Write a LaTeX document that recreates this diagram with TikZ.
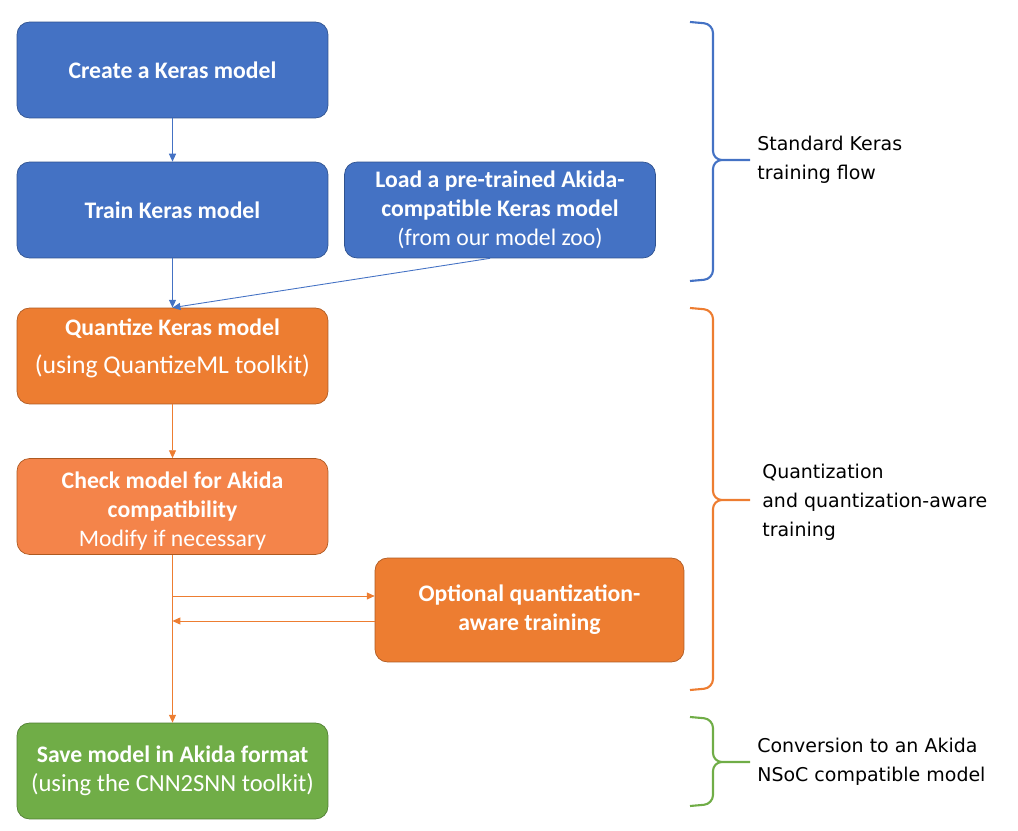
\documentclass[tikz,border=0pt]{standalone}
\usepackage{fontspec}
\setmainfont{Carlito}
\newfontfamily\notefont{DejaVu Sans}
\usetikzlibrary{arrows.meta,positioning}
\definecolor{kblue}{HTML}{4472C4}
\definecolor{kblueline}{HTML}{2F528F}
\definecolor{korange}{HTML}{ED7D31}
\definecolor{klight}{HTML}{F4844A}
\definecolor{koline}{HTML}{AE5A21}
\definecolor{kgreen}{HTML}{70AD47}
\definecolor{kgline}{HTML}{507E32}

\begin{document}
\begin{tikzpicture}[x=0.02cm,y=-0.02cm,
  box/.style={draw, line width=0.4pt, rounded corners=0.25cm, minimum width=6.22cm,
    minimum height=1.92cm, align=center, text=white, inner sep=2pt,
    font=\fontsize{13.5}{16.5}\selectfont\bfseries},
  bluebox/.style={box, fill=kblue, draw=kblueline},
  orabox/.style={box, fill=korange, draw=koline},
  greenbox/.style={box, fill=kgreen, draw=kgline},
  arr/.style={-{Triangle[length=4.5pt,width=4pt]}, line width=0.5pt},
  bracel/.style={line width=1.2pt, rounded corners=0.18cm},
  note/.style={align=left, anchor=west, inner sep=0pt,
    font=\notefont\fontsize{10.8}{16.5}\selectfont}
]
\useasboundingbox (0,0) rectangle (1018,831);

  % Draw the boxes
  \node[bluebox] (create) at (172.5,70) {Create a Keras model};
  \node[bluebox] (train) at (172.5,210) {Train Keras model};
  \node[bluebox] (load) at (500,210) {Load a pre-trained Akida-\\compatible Keras model\\
    \mdseries (from our model zoo)};
  \node[orabox] (quant) at (172.5,356) {Quantize Keras model\\[5pt]
    {\fontsize{14.6}{18}\selectfont\mdseries (using QuantizeML toolkit)\rule[-11pt]{0pt}{0pt}}};
  \node[orabox, fill=klight] (check) at (172.5,506.5) {\rule{0pt}{14.5pt}Check model for Akida\\compatibility\\
    \mdseries Modify if necessary};
  \node[orabox, minimum width=6.18cm, minimum height=2.08cm] (opt) at (529.5,610)
    {Optional quantization-\\aware training};
  \node[greenbox] (save) at (172.5,771) {Save model in Akida format\\
    {\fontsize{14}{16.5}\selectfont\mdseries (using the CNN2SNN toolkit)}};

  % Draw the arrows
  \draw[arr, kblue] (create) -- (train);
  \draw[arr, kblue] (train) -- (quant);
  \draw[arr, kblue] ([xshift=-0.2cm]load.south) -- (quant.north);
  \draw[arr, korange] (quant) -- (check);
  \draw[arr, korange] (check) -- (save);
  \draw[arr, korange] (check.south |- 0,596) -- (opt.west |- 0,596);
  \draw[arr, korange] (opt.west |- 0,621) -- (check.south |- 0,621);

  % Draw the braces and label them
  \draw[bracel, kblue] (690,22) -- (713,24) -- (713,160) -- (750,160)
    (690,281) -- (713,279) -- (713,160) -- (750,160);
  \coordinate (stdtip) at (750,160);
  \node[note, right=0.14cm of stdtip] (stdlbl) {Standard Keras\\training flow};

  \draw[bracel, korange] (690,308) -- (713,310) -- (713,500) -- (750,500)
    (690,690) -- (713,688) -- (713,500) -- (750,500);
  \coordinate (quanttip) at (750,500);
  \node[note, right=0.24cm of quanttip, yshift=-0.04cm] (quantlbl)
    {Quantization\\and quantization-aware\\training};

  \draw[bracel, kgreen] (690,717) -- (713,719) -- (713,762) -- (750,762)
    (690,806) -- (713,804) -- (713,762) -- (750,762);
  \coordinate (convtip) at (750,762);
  \node[note, right=0.14cm of convtip] (convlbl) {Conversion to an Akida\\NSoC compatible model};

\end{tikzpicture}
\end{document}
